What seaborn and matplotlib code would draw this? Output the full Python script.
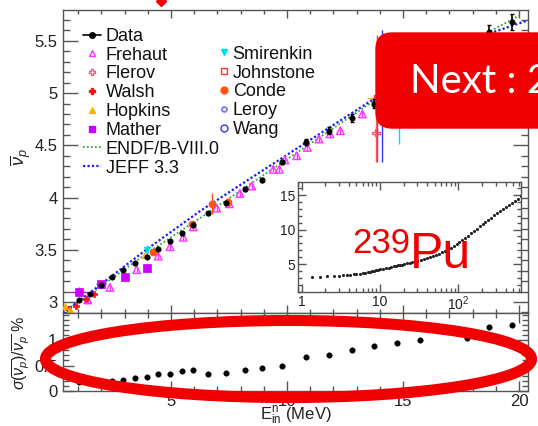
import matplotlib
matplotlib.use("Agg")
import matplotlib.pyplot as plt
import seaborn as sns
from matplotlib.lines import Line2D
from matplotlib.patches import FancyBboxPatch, Ellipse
from matplotlib.ticker import MultipleLocator, FixedLocator, FuncFormatter, NullFormatter, LogLocator

# ---------------- this measurement ----------------
data_E = [1.03, 1.5, 1.97, 2.47, 2.94, 3.45, 3.95, 4.45, 4.96, 5.46, 5.94, 6.61, 7.36,
          8.18, 8.93, 9.8, 10.8, 11.8, 12.79, 13.76, 14.75, 15.74, 16.74, 17.75, 18.72, 19.72]
data_nu = [3.02, 3.08, 3.16, 3.24, 3.31, 3.37, 3.43, 3.51, 3.58, 3.66, 3.74, 3.85, 3.95,
           4.08, 4.17, 4.34, 4.53, 4.64, 4.76, 4.90, 5.03, 5.17, 5.30, 5.44, 5.58, 5.68]
# relative uncertainty (%)
data_rel = [0.17, 0.17, 0.16, 0.20, 0.22, 0.25, 0.28, 0.33, 0.34, 0.39, 0.42, 0.34, 0.35,
            0.42, 0.46, 0.50, 0.66, 0.70, 0.80, 0.88, 0.95, 1.01, 1.18, 1.03, 1.25, 1.29]

# ---------------- evaluations ----------------
endf_E = [0.34, 1.94, 3.97, 6.25, 8.92, 10.78, 13.79, 16.59, 18.75, 20.0]
endf_nu = [2.895, 3.143, 3.468, 3.803, 4.205, 4.482, 4.931, 5.294, 5.591, 5.74]
jeff_E = [0.34, 1.94, 3.97, 6.25, 8.84, 10.78, 13.79, 16.59, 18.75, 20.39]
jeff_nu = [2.895, 3.163, 3.507, 3.870, 4.243, 4.520, 4.950, 5.314, 5.572, 5.696]

# ---------------- earlier measurements ----------------
frehaut_E = [1.41, 2.37, 3.52, 4.45, 4.96, 5.53, 5.96, 6.97, 7.51, 7.97, 8.48, 9.41, 9.67,
             9.91, 10.42, 10.88, 11.38, 11.85, 12.3, 13.25]
frehaut_nu = [3.02, 3.14, 3.31, 3.44, 3.53, 3.62, 3.72, 3.90, 3.94, 4.04, 4.11, 4.27, 4.27,
              4.36, 4.40, 4.48, 4.56, 4.61, 4.64, 4.80]
frehaut_err = [0.03, 0.03, 0.03, 0.03, 0.03, 0.03, 0.03, 0.03, 0.03, 0.03, 0.03, 0.03, 0.03,
               0.03, 0.03, 0.03, 0.03, 0.03, 0.03, 0.03]
flerov_E = [13.84]
flerov_nu = [4.62]
flerov_err = [0.28]
walsh_E = [0.55, 0.9, 1.35, 1.7]
walsh_nu = [2.93, 2.965, 3.03, 3.08]
walsh_err = [0.02, 0.02, 0.02, 0.02]
hopkins_E = [0.43, 0.65, 3.9, 13.9]
hopkins_nu = [2.96, 2.92, 3.45, 4.95]
hopkins_xerr = [0.1, 0.1, 0.0, 0.45]
mather_E = [1.03, 1.98, 3.0, 3.98]
mather_nu = [3.10, 3.17, 3.24, 3.325]
mather_err = [0.04, 0.03, 0.035, 0.035]
mather_xerr = [0.4, 0.2, 0.0, 0.0]
smirenkin_E = [3.98, 14.84]
smirenkin_nu = [3.50, 4.85]
smirenkin_err = [0.05, 0.34]
johnstone_E = [13.89]
johnstone_nu = [4.95]
johnstone_err = [0.61]
conde_E = [4.24, 5.89, 6.75, 7.47]
conde_nu = [3.48, 3.75, 3.94, 3.96]
conde_err = [0.03, 0.03, 0.10, 0.04]
leroy_E = [14.4]
leroy_nu = [4.98]
leroy_err = [0.06]
wang_E = [14.08]
wang_nu = [4.97]
wang_err = [0.63]

# ---------------- wide-range data (inset) ----------------
wide_E = [1.35, 1.7, 2.1, 2.6, 3.0, 3.4, 3.8, 4.2, 4.6, 5.0, 5.5, 6.0, 6.5, 7.0, 7.5, 8, 8.5,
          9, 9.5, 10, 11, 12, 13, 14, 15, 16, 17, 18, 19, 20, 22, 24, 26, 28, 30, 33, 36, 40,
          44, 48, 52, 57, 62, 68, 74, 80, 87, 95, 103, 112, 122, 133, 145, 158, 172, 187, 204,
          222, 242, 264, 288, 314, 342, 373, 406, 443, 483, 526, 573, 625]
wide_nu = [3.15, 3.17, 3.2, 3.25, 3.3, 3.35, 3.4, 3.45, 3.5, 3.56, 3.63, 3.7, 3.77, 3.84,
           3.91, 3.98, 4.04, 4.1, 4.16, 4.22, 4.32, 4.42, 4.5, 4.58, 4.66, 4.73, 4.8, 4.86,
           4.92, 4.98, 5.1, 5.2, 5.3, 5.38, 5.45, 5.58, 5.7, 5.85, 6.0, 6.15, 6.3, 6.5, 6.7,
           6.9, 7.15, 7.35, 7.6, 7.85, 8.15, 8.45, 8.75, 9.1, 9.45, 9.8, 10.15, 10.5, 10.85,
           11.15, 11.45, 11.75, 12.05, 12.35, 12.65, 12.95, 13.25, 13.55, 13.85, 14.15,
           14.5, 14.85]

COL = {
    "Frehaut": "#FF33FF", "Flerov": "#FF5577", "Walsh": "#FF1111", "Hopkins": "#FFB000",
    "Mather": "#CC00FF", "ENDF": "#33AA33", "JEFF": "#1A1AFF", "Smirenkin": "#00DDEE",
    "Johnstone": "#FF3333", "Conde": "#FF5511", "Leroy": "#7777FF", "Wang": "#3333FF",
}

sns.set_theme(style="ticks")
plt.rcParams["font.family"] = ["Liberation Sans", "DejaVu Sans"]
plt.rcParams["mathtext.fontset"] = "custom"
plt.rcParams["mathtext.rm"] = "Liberation Sans"
plt.rcParams["mathtext.it"] = "Liberation Sans:italic"
plt.rcParams["mathtext.bf"] = "Liberation Sans:bold"
plt.rcParams["axes.edgecolor"] = "#555555"
plt.rcParams["axes.linewidth"] = 1.0

W, H = 538, 426
fig = plt.figure(figsize=(W / 100, H / 100), dpi=100)
fig.patch.set_facecolor("white")


def box(l, t, r, b):
    return [l / W, 1 - b / H, (r - l) / W, (b - t) / H]


ax = fig.add_axes(box(63, 10, 528, 313))
axr = fig.add_axes(box(63, 313, 528, 391), sharex=ax)
axi = fig.add_axes(box(298, 182, 521, 292))

# ---- main panel ----
sns.lineplot(x=endf_E, y=endf_nu, ax=ax, color=COL["ENDF"], lw=1.3, linestyle=(0, (1, 1.2)),
             sort=False, estimator=None, zorder=2)
sns.lineplot(x=jeff_E, y=jeff_nu, ax=ax, color=COL["JEFF"], lw=1.6, linestyle=(0, (1, 1.0)),
             sort=False, estimator=None, zorder=2)


def points(E, nu, color, marker, s, yerr=None, xerr=None, open_=False, lw=1.0, z=3):
    if yerr is not None or xerr is not None:
        ax.errorbar(E, nu, yerr=yerr, xerr=xerr, fmt="none", ecolor=color, elinewidth=1.0,
                    capsize=0, zorder=z)
    if open_:
        sns.scatterplot(x=E, y=nu, ax=ax, marker=marker, s=s, facecolors="none",
                        edgecolor=color, linewidth=lw, zorder=z)
    else:
        sns.scatterplot(x=E, y=nu, ax=ax, marker=marker, s=s, color=color,
                        edgecolor=color, linewidth=0.5, zorder=z)


points(frehaut_E, frehaut_nu, COL["Frehaut"], "^", 30, yerr=frehaut_err, open_=True)
points(flerov_E, flerov_nu, COL["Flerov"], "P", 28, yerr=flerov_err, open_=True)
points(walsh_E, walsh_nu, COL["Walsh"], "P", 22, yerr=walsh_err)
points(hopkins_E, hopkins_nu, COL["Hopkins"], "^", 22, xerr=hopkins_xerr)
points(mather_E, mather_nu, COL["Mather"], "s", 34, yerr=mather_err, xerr=mather_xerr)
points(smirenkin_E, smirenkin_nu, COL["Smirenkin"], "v", 22, yerr=smirenkin_err)
points(johnstone_E, johnstone_nu, COL["Johnstone"], "s", 28, yerr=johnstone_err, open_=True)
points(conde_E, conde_nu, COL["Conde"], "o", 26, yerr=conde_err)
points(leroy_E, leroy_nu, COL["Leroy"], "o", 10, yerr=leroy_err, open_=True, lw=1.3)
points(wang_E, wang_nu, COL["Wang"], "o", 28, yerr=wang_err, open_=True)

data_err = [n * r / 100 for n, r in zip(data_nu, data_rel)]
ax.errorbar(data_E, data_nu, yerr=data_err, fmt="none", ecolor="black", elinewidth=1.2,
            capsize=1.5, capthick=1.0, zorder=5)
sns.scatterplot(x=data_E, y=data_nu, ax=ax, color="black", s=16, edgecolor="black",
                linewidth=0.3, zorder=6)

ax.set_xlim(0.345, 20.39)
ax.set_ylim(2.895, 5.795)
ax.xaxis.set_major_locator(MultipleLocator(5))
ax.xaxis.set_minor_locator(MultipleLocator(1))
ax.yaxis.set_major_locator(MultipleLocator(0.5))
ax.yaxis.set_minor_locator(MultipleLocator(0.1))
ax.yaxis.set_major_formatter(FuncFormatter(lambda v, p: f"{v:g}"))
ax.tick_params(axis="both", which="both", direction="in", top=True, right=True,
               labelbottom=False, colors="#555555", labelcolor="#222222", labelsize=12)
ax.tick_params(axis="y", which="major", length=10.5, width=1.0, pad=4)
ax.tick_params(axis="y", which="minor", length=5.2, width=1.0)
ax.tick_params(axis="x", which="major", length=5.5, width=1.0)
ax.tick_params(axis="x", which="minor", length=3.0, width=1.0)
ax.set_xlabel("")
ax.set_ylabel(r"$\overline{\nu}_{p}$", fontsize=13, color="#222222")
ax.yaxis.set_label_coords(-0.064, 0.515)

# legends
def h_marker(marker, color, ms, open_=False, mew=1.0):
    return Line2D([], [], linestyle="none", marker=marker, markersize=ms,
                  markerfacecolor="none" if open_ else color, markeredgecolor=color,
                  markeredgewidth=mew)

hand1 = [
    Line2D([], [], color="black", lw=1.2, marker="o", markersize=4),
    h_marker("^", COL["Frehaut"], 5, True),
    h_marker("P", COL["Flerov"], 5, True),
    h_marker("P", COL["Walsh"], 5),
    h_marker("^", COL["Hopkins"], 5),
    h_marker("s", COL["Mather"], 5),
    Line2D([], [], color=COL["ENDF"], lw=1.3, linestyle=(0, (1, 1.2))),
    Line2D([], [], color=COL["JEFF"], lw=1.6, linestyle=(0, (1, 1.0))),
]
lab1 = ["Data", "Frehaut", "Flerov", "Walsh", "Hopkins", "Mather", "ENDF/B-VIII.0", "JEFF 3.3"]
hand2 = [
    h_marker("v", COL["Smirenkin"], 5),
    h_marker("s", COL["Johnstone"], 5, True),
    h_marker("o", COL["Conde"], 5),
    h_marker("o", COL["Leroy"], 3.5, True, 1.3),
    h_marker("o", COL["Wang"], 5, True),
]
lab2 = ["Smirenkin", "Johnstone", "Conde", "Leroy", "Wang"]
leg1 = ax.legend(hand1, lab1, loc="upper left", bbox_to_anchor=(0.043, 0.941), frameon=False,
                 fontsize=13, borderpad=0, borderaxespad=0, handlelength=1.0,
                 handletextpad=0.25, labelspacing=0.1)
ax.add_artist(leg1)
leg2 = ax.legend(hand2, lab2, loc="upper left", bbox_to_anchor=(0.335, 0.882), frameon=False,
                 fontsize=13, borderpad=0, borderaxespad=0, handlelength=0.55,
                 handletextpad=0.22, labelspacing=0.1)
for lg in (leg1, leg2):
    for t in lg.get_texts():
        t.set_color("#111111")

# ---- uncertainty panel ----
sns.scatterplot(x=data_E, y=data_rel, ax=axr, color="black", s=16, edgecolor="black",
                linewidth=0.3)
axr.set_ylim(0, 1.53)
axr.yaxis.set_major_locator(FixedLocator([0, 0.5, 1]))
axr.yaxis.set_minor_locator(MultipleLocator(0.1))
axr.yaxis.set_major_formatter(FuncFormatter(lambda v, p: f"{v:g}"))
axr.tick_params(axis="both", which="both", direction="in", top=True, right=True,
                colors="#555555", labelcolor="#222222", labelsize=12)
axr.tick_params(axis="y", which="major", length=8, width=1.0, pad=4)
axr.tick_params(axis="y", which="minor", length=4, width=1.0)
axr.tick_params(axis="x", which="major", length=7, width=1.0, pad=2)
axr.tick_params(axis="x", which="minor", length=3.5, width=1.0)
axr.set_xlabel(r"E$^{\rm n}_{\rm in}$ (MeV)", fontsize=12, color="#222222")
axr.xaxis.set_label_coords(0.5, -0.175)
axr.set_ylabel(r"$\sigma(\overline{\nu_{p}})/\overline{\nu_{p}}$ %", fontsize=11.5,
               color="#222222")
axr.yaxis.set_label_coords(-0.066, 0.487)

# ---- inset: wide energy range ----
axi.set_facecolor("white")
axi.errorbar(wide_E, wide_nu, yerr=[0.06] * len(wide_E), fmt="none", ecolor="#222222",
             elinewidth=0.8, capsize=0)
sns.scatterplot(x=wide_E, y=wide_nu, ax=axi, color="#222222", s=5, linewidth=0)
axi.set_xscale("log")
axi.set_xlim(0.9, 630)
axi.set_ylim(0.95, 16.9)
axi.set_xticks([1, 10, 100], labels=["1", "10", r"10$^{2}$"])
axi.xaxis.set_minor_locator(LogLocator(base=10, subs=range(2, 10)))
axi.xaxis.set_minor_formatter(NullFormatter())
axi.yaxis.set_major_locator(MultipleLocator(5))
axi.yaxis.set_minor_locator(MultipleLocator(1))
axi.tick_params(axis="both", which="both", direction="in", top=True, right=True,
                colors="#555555", labelcolor="#222222", labelsize=10)
axi.tick_params(axis="both", which="major", length=6, width=1.0, pad=2)
axi.tick_params(axis="both", which="minor", length=3, width=1.0)

# ---- slide annotations ----
fig.add_artist(FancyBboxPatch((376 / W, 1 - 128 / H), (620 - 376) / W, (128 - 33) / H,
                              boxstyle="round,pad=0,rounding_size=0.03",
                              mutation_aspect=W / H, transform=fig.transFigure,
                              facecolor="#F00000", edgecolor="#F00000", zorder=20))
fig.text(410 / W, 1 - 93 / H, "Next : 235U", fontsize=29, color="white",
         family=["Lato", "DejaVu Sans"], va="baseline", ha="left", zorder=21)
fig.add_artist(Ellipse((288.5 / W, 1 - 359 / H), 486 / W, 77 / H, transform=fig.transFigure,
                       fill=False, edgecolor="#F00000", lw=8, zorder=20))
fig.text(352.7 / W, 1 - 253.3 / H, "239", fontsize=25, color="#F00000", va="baseline",
         ha="left", zorder=21)
fig.text(410 / W, 1 - 268.3 / H, "Pu", fontsize=36, color="#F00000", va="baseline",
         ha="left", zorder=21)
fig.add_artist(Line2D([161 / W], [1 - 0.5 / H], marker="D", markersize=5, color="#F00000",
                      linestyle="none", transform=fig.transFigure, zorder=21))

fig.savefig("out.png", dpi=100)
